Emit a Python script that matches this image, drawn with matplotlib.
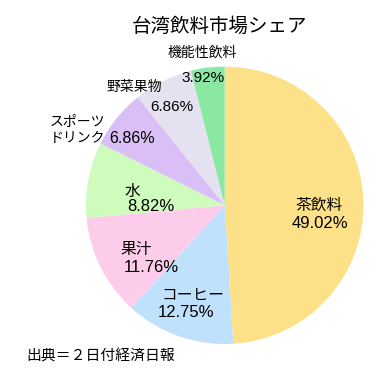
import matplotlib
matplotlib.use("Agg")
import matplotlib.pyplot as plt

plt.rcParams['font.family'] = ['Noto Sans CJK JP', 'DejaVu Sans']

categories = ["茶飲料", "コーヒー", "果汁", "水", "スポーツ\nドリンク", "野菜果物", "機能性飲料"]
values = [50, 13, 12, 9, 7, 7, 4]
percents = ["49.02%", "12.75%", "11.76%", "8.82%", "6.86%", "6.86%", "3.92%"]
colors = ["#FDE188", "#BFE1FC", "#FDCCEA", "#CFFCBC", "#D9BFF6", "#E4E2F1", "#8AE8A2"]

fig = plt.figure(figsize=(3.83, 3.78), dpi=100)
ax = fig.add_axes([0, 0, 1, 1])
ax.pie(values, colors=colors, startangle=90, counterclock=False, radius=1,
       wedgeprops=dict(linewidth=0))
ax.set_xlim(-1.62, 1.141)
ax.set_ylim(-1.245, 1.48)
ax.set_aspect('equal')
ax.axis('off')

NUM = ['Liberation Sans', 'Noto Sans CJK JP']
fsn = 11.3   # CJK name size
fsp = 12     # percent size

# (name_x, name_y, pct_x, pct_y, ha, name_size, pct_size)
layout = [
    (0.68, 0.00, 0.69, -0.13, 'center', fsn, fsp),
    (-0.23, -0.65, -0.28, -0.77, 'center', fsn, fsp),
    (-0.64, -0.32, -0.53, -0.445, 'center', fsn, fsp),
    (-0.72, 0.10, -0.705, -0.01, 'left', fsn, fsp),
    (-1.26, 0.54, -0.67, 0.485, 'left', 10, 11.5),
    (-0.655, 0.853, -0.38, 0.708, 'center', 10, 11),
    (-0.164, 1.098, -0.157, 0.917, 'center', 10, 11),
]
for i, (nx, ny, px, py, ha, ns, ps) in enumerate(layout):
    ax.text(nx, ny, categories[i], ha=ha, va='center', fontsize=ns, linespacing=1.2)
    pha = 'left' if i == 3 else 'center'
    ax.text(px, py, percents[i], ha=pha, va='center', fontsize=ps, family=NUM)

fig.text(0.572, 0.93, "台湾飲料市場シェア", ha='center', va='center', fontsize=14)
fig.text(0.068, 0.056, "出典＝２日付経済日報", ha='left', va='center', fontsize=10.7)

fig.savefig("out.png", dpi=100)
